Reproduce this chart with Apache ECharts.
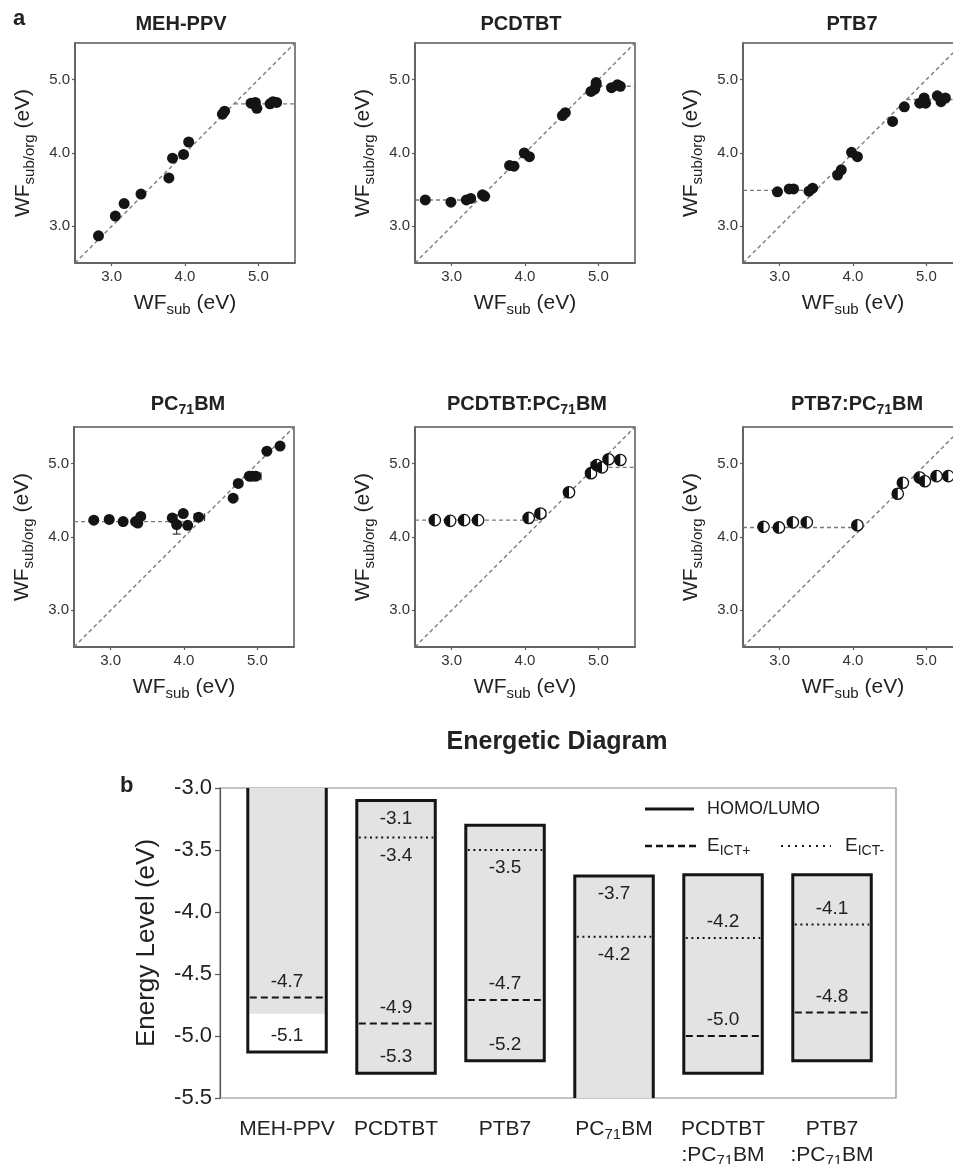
<!DOCTYPE html>
<html><head><meta charset="utf-8">
<script src="https://cdn.jsdelivr.net/npm/echarts@6/dist/echarts.min.js"></script>
<style>html,body{margin:0;padding:0;background:#fff}#c{width:953px;height:1164px}</style>
</head><body><div id="c"></div>
<script>
// ---------------- DATA ----------------
const panelTitles = ['MEH-PPV', 'PCDTBT', 'PTB7', 'PC{s|71}BM', 'PCDTBT:PC{s|71}BM', 'PTB7:PC{s|71}BM'];
const axisRange = [2.5, 5.5];
const axisTicks = [3.0, 4.0, 5.0];

const mehPpvPts = [[2.82,2.87],[3.05,3.14],[3.17,3.31],[3.40,3.44],[3.78,3.66],[3.83,3.93],[3.98,3.98],[4.05,4.15],[4.51,4.53],[4.54,4.57],[4.90,4.68],[4.96,4.69],[4.98,4.61],[5.16,4.67],[5.20,4.70],[5.25,4.69]];
const pcdtbtPts = [[2.64,3.36],[2.99,3.33],[3.20,3.36],[3.26,3.38],[3.42,3.43],[3.45,3.41],[3.79,3.83],[3.85,3.82],[3.99,4.00],[4.06,3.95],[4.51,4.51],[4.55,4.55],[4.90,4.84],[4.95,4.87],[4.97,4.93],[4.97,4.96],[5.18,4.89],[5.26,4.93],[5.30,4.91]];
const ptb7Pts = [[2.97,3.47],[3.13,3.51],[3.19,3.51],[3.40,3.48],[3.45,3.52],[3.79,3.70],[3.84,3.77],[3.98,4.01],[4.06,3.95],[4.54,4.43],[4.70,4.63],[4.91,4.68],[4.97,4.75],[4.99,4.68],[5.15,4.78],[5.20,4.70],[5.26,4.75]];
const pc71bmPts = [[2.77,4.23],[2.98,4.24],[3.17,4.21],[3.34,4.21],[3.37,4.19],[3.41,4.28],[3.84,4.26],[3.90,4.17],[3.99,4.32],[4.05,4.16],[4.20,4.27],[4.67,4.53],[4.74,4.73],[4.89,4.83],[4.93,4.83],[4.98,4.83],[5.13,5.17],[5.31,5.24]];
const pcdtbtBlendPts = [[2.77,4.23],[2.98,4.22],[3.17,4.23],[3.36,4.23],[4.05,4.26],[4.21,4.32],[4.60,4.61],[4.90,4.87],[4.98,4.98],[5.05,4.95],[5.14,5.06],[5.30,5.05]];
const ptb7BlendPts = [[2.78,4.14],[2.99,4.13],[3.18,4.20],[3.37,4.20],[4.06,4.16],[4.61,4.59],[4.68,4.74],[4.91,4.81],[4.98,4.76],[5.14,4.83],[5.30,4.83]];

const lowPlateau  = [null, 3.36, 3.49, 4.21, 4.23, 4.13];
const highPlateau = [4.67, 4.91, 4.73, null, 4.95, null];
// error bars: x-errors [y, xLow, xHigh], y-errors [x, yLow, yHigh]
const xErrBars = [[], [], [], [[4.27,4.14,4.28],[4.83,4.86,5.05]], [[4.32,4.15,4.28],[4.98,4.90,5.00]], []];
const yErrBars = [[], [], [], [[3.90,4.04,4.30]], [], []];

// Energetic diagram
const energyCats = ['MEH-PPV', 'PCDTBT', 'PTB7', 'PC{s|71}BM', 'PCDTBT\n:PC{s|71}BM', 'PTB7\n:PC{s|71}BM'];
const lumo        = [-2.9, -3.1, -3.3, -3.71, -3.7, -3.7];
const homo        = [-5.13, -5.3, -5.2, -6.1, -5.3, -5.2];
const shadeBottom = [-4.82, -5.3, -5.2, -6.1, -5.3, -5.2];
const eIctPlus    = [-4.69, -4.9, -4.71, null, -5.0, -4.81];
const eIctMinus   = [null, -3.4, -3.5, -4.2, -4.21, -4.1];
const energyRange = [-5.5, -3.0];
const levelLabels = [[0,-4.7],[0,-5.1],[1,-3.1],[1,-3.4],[1,-4.9],[1,-5.3],[2,-3.5],[2,-4.7],[2,-5.2],[3,-3.7],[3,-4.2],[4,-4.2],[4,-5.0],[5,-4.1],[5,-4.8]];
const legendNames = ['HOMO/LUMO', 'E{s|ICT+}', 'E{s|ICT-}'];

// ---------------- LAYOUT / STYLE ----------------
const FONT = '"Liberation Sans", Arial, sans-serif';
const TXT = '#222';
const labelSide = [-1,-1, 1,1,-1,-1, 1,-1,-1, 1,1, -1,-1, -1,-1]; // 1 below line, -1 above
const gridBoxes = [[75,43],[415,43],[743,43],[74,427],[415,427],[743,427]];
const titleCenters = [[181,24],[521,24],[852,24],[188,404],[527,404],[857,404]];
const panelPts = [mehPpvPts, pcdtbtPts, ptb7Pts, pc71bmPts, pcdtbtBlendPts, ptb7BlendPts];
const halfFilled = [false,false,false,false,true,true];
const catPos = energyCats.map((c, i) => i);

const nameRich = {
  m: {fontSize: 21, fontFamily: FONT, color: TXT, lineHeight: 28},
  s: {fontSize: 15, fontFamily: FONT, color: TXT, lineHeight: 12, verticalAlign: 'bottom'}
};

const grids = [], xAxes = [], yAxes = [], series = [], titles = [];
const dashStyle = {color: '#7a7a7a', width: 1.4, type: [4, 3]};

function halfRender(params, api) {
  const p = api.coord([api.value(0), api.value(1)]);
  const r = 5.7;
  return {type: 'group', children: [
    {type: 'circle', shape: {cx: p[0], cy: p[1], r: r}, style: {fill: '#fff', stroke: '#111', lineWidth: 1.3}},
    {type: 'sector', shape: {cx: p[0], cy: p[1], r0: 0, r: r, startAngle: Math.PI/2, endAngle: Math.PI*1.5, clockwise: true}, style: {fill: '#111'}}
  ]};
}
function xErrRender(params, api) {
  const y = api.value(0), lo = api.value(1), hi = api.value(2);
  const a = api.coord([lo, y]), b = api.coord([hi, y]);
  const st = {stroke: '#333', lineWidth: 1.2};
  return {type: 'group', children: [
    {type: 'line', shape: {x1: a[0], y1: a[1], x2: b[0], y2: b[1]}, style: st},
    {type: 'line', shape: {x1: a[0], y1: a[1]-4, x2: a[0], y2: a[1]+4}, style: st},
    {type: 'line', shape: {x1: b[0], y1: b[1]-4, x2: b[0], y2: b[1]+4}, style: st}
  ]};
}
function yErrRender(params, api) {
  const x = api.value(0), lo = api.value(1), hi = api.value(2);
  const a = api.coord([x, lo]), b = api.coord([x, hi]);
  const st = {stroke: '#333', lineWidth: 1.2};
  return {type: 'group', children: [
    {type: 'line', shape: {x1: a[0], y1: a[1], x2: b[0], y2: b[1]}, style: st},
    {type: 'line', shape: {x1: a[0]-4, y1: a[1], x2: a[0]+4, y2: a[1]}, style: st},
    {type: 'line', shape: {x1: b[0]-4, y1: b[1], x2: b[0]+4, y2: b[1]}, style: st}
  ]};
}

panelPts.forEach((pts, i) => {
  const [L, T] = gridBoxes[i];
  grids.push({left: L, top: T, width: 220, height: 220, show: true, borderColor: '#5a5a5a', borderWidth: 1.5,
    backgroundColor: 'rgba(0,0,0,0)', containLabel: false, outerBoundsMode: 'none'});
  const common = {
    gridIndex: i, type: 'value', min: axisRange[0], max: axisRange[1],
    nameLocation: 'middle', nameTextStyle: {rich: nameRich},
    axisLine: {show: true, onZero: false, lineStyle: {color: '#5a5a5a', width: 1.5}},
    axisTick: {show: true, length: 3, customValues: axisTicks, lineStyle: {color: '#5a5a5a', width: 1.2}},
    axisLabel: {customValues: axisTicks, formatter: v => v.toFixed(1), fontSize: 15, color: '#333', fontFamily: FONT},
    splitLine: {show: false}
  };
  xAxes.push(Object.assign({}, common, {name: '{m|WF}{s|sub}{m| (eV)}', nameGap: 26,
    axisLabel: Object.assign({}, common.axisLabel, {margin: 6})}));
  yAxes.push(Object.assign({}, common, {name: '{m|WF}{s|sub/org}{m| (eV)}', nameGap: 38,
    axisLabel: Object.assign({}, common.axisLabel, {margin: 5})}));
  titles.push({text: panelTitles[i], left: titleCenters[i][0], top: titleCenters[i][1] - 13, textAlign: 'center', padding: 0,
    textStyle: {fontSize: 20, fontWeight: 'bold', color: TXT, fontFamily: FONT, lineHeight: 26,
      rich: {s: {fontSize: 14, fontWeight: 'bold', color: TXT, fontFamily: FONT, verticalAlign: 'bottom', lineHeight: 10}}}});

  const lineBase = {type: 'line', xAxisIndex: i, yAxisIndex: i, symbol: 'none', silent: true, lineStyle: dashStyle, z: 1, animation: false};
  series.push(Object.assign({}, lineBase, {data: [[axisRange[0], axisRange[0]], [axisRange[1], axisRange[1]]]}));
  if (lowPlateau[i] !== null) series.push(Object.assign({}, lineBase, {data: [[axisRange[0], lowPlateau[i]], [lowPlateau[i], lowPlateau[i]]]}));
  if (highPlateau[i] !== null) series.push(Object.assign({}, lineBase, {data: [[highPlateau[i], highPlateau[i]], [axisRange[1], highPlateau[i]]]}));
  if (xErrBars[i].length) series.push({type: 'custom', xAxisIndex: i, yAxisIndex: i, data: xErrBars[i], renderItem: xErrRender, encode: {x: [1,2], y: 0}, z: 2, silent: true, animation: false});
  if (yErrBars[i].length) series.push({type: 'custom', xAxisIndex: i, yAxisIndex: i, data: yErrBars[i], renderItem: yErrRender, encode: {x: 0, y: [1,2]}, z: 2, silent: true, animation: false});
  if (halfFilled[i]) {
    series.push({type: 'custom', xAxisIndex: i, yAxisIndex: i, data: pts, renderItem: halfRender, encode: {x: 0, y: 1}, z: 3, silent: true, animation: false});
  } else {
    series.push({type: 'scatter', xAxisIndex: i, yAxisIndex: i, data: pts, symbolSize: 11, itemStyle: {color: '#141414', opacity: 1}, z: 3, silent: true, animation: false});
  }
});

// ---- Energetic diagram ----
const EG = 6;
grids.push({left: 220, top: 788, width: 676, height: 310, show: true, borderColor: '#8a8a8a', borderWidth: 1.2,
  backgroundColor: 'rgba(0,0,0,0)', containLabel: false, outerBoundsMode: 'none'});
xAxes.push({gridIndex: EG, type: 'value', min: -0.615, max: 5.587,
  axisLine: {show: false, onZero: false}, axisTick: {show: false}, splitLine: {show: false},
  axisLabel: {customValues: catPos, formatter: v => energyCats[Math.round(v)], margin: 18,
    fontSize: 21, color: TXT, fontFamily: FONT, lineHeight: 26,
    rich: {s: {fontSize: 15, color: TXT, fontFamily: FONT, verticalAlign: 'bottom', lineHeight: 12}}}});
yAxes.push({gridIndex: EG, type: 'value', min: energyRange[0], max: energyRange[1], interval: 0.5,
  name: 'Energy Level (eV)', nameLocation: 'middle', nameGap: 60,
  nameTextStyle: {fontSize: 26, color: TXT, fontFamily: FONT},
  axisLine: {show: true, onZero: false, lineStyle: {color: '#555', width: 1.2}},
  axisTick: {show: true, length: 5, lineStyle: {color: '#555', width: 1.2}},
  axisLabel: {formatter: v => v.toFixed(1), fontSize: 22, color: TXT, fontFamily: FONT, margin: 8},
  splitLine: {show: false}});

const clampV = v => Math.max(energyRange[0], Math.min(energyRange[1], v));
function boxRender(params, api) {
  const i = params.dataIndex;
  const xc = api.value(0);
  const half = api.size([0.72, 0])[0] / 2;
  const cx = api.coord([xc, energyRange[1]])[0];
  const x0 = cx - half, x1 = cx + half;
  const yT = api.coord([xc, clampV(lumo[i])])[1];
  const yB = api.coord([xc, clampV(homo[i])])[1];
  const yS = api.coord([xc, clampV(shadeBottom[i])])[1];
  const ch = [];
  ch.push({type: 'rect', shape: {x: x0, y: yT, width: x1 - x0, height: yS - yT}, style: {fill: '#e3e3e3'}});
  const topIn = lumo[i] <= energyRange[1], botIn = homo[i] >= energyRange[0];
  let pts;
  if (topIn && botIn) {
    ch.push({type: 'polygon', shape: {points: [[x0,yT],[x1,yT],[x1,yB],[x0,yB]]}, style: {fill: 'none', stroke: '#151515', lineWidth: 3, lineJoin: 'miter'}});
  } else {
    if (!topIn) pts = [[x0,yT],[x0,yB],[x1,yB],[x1,yT]];
    else pts = [[x0,yB],[x0,yT],[x1,yT],[x1,yB]];
    ch.push({type: 'polyline', shape: {points: pts}, style: {fill: 'none', stroke: '#151515', lineWidth: 3, lineJoin: 'miter'}});
  }
  if (eIctPlus[i] !== null) {
    const y = api.coord([xc, eIctPlus[i]])[1];
    ch.push({type: 'line', shape: {x1: x0 + 2, y1: y, x2: x1 - 2, y2: y}, style: {stroke: '#151515', lineWidth: 2, lineDash: [7, 4]}});
  }
  if (eIctMinus[i] !== null) {
    const y = api.coord([xc, eIctMinus[i]])[1];
    ch.push({type: 'line', shape: {x1: x0 + 2, y1: y, x2: x1 - 2, y2: y}, style: {stroke: '#151515', lineWidth: 2, lineDash: [2, 3.6]}});
  }
  return {type: 'group', children: ch};
}
series.push({type: 'custom', xAxisIndex: EG, yAxisIndex: EG, data: energyCats.map((c, i) => [i, clampV(lumo[i]), clampV(homo[i])]),
  renderItem: boxRender, encode: {x: 0, y: [1, 2]}, silent: true, animation: false, z: 2});

function nearestLevel(i, v) {
  const levels = [lumo[i], homo[i], eIctPlus[i], eIctMinus[i]].filter(x => x !== null);
  let best = levels[0];
  levels.forEach(l => { if (Math.abs(l - v) < Math.abs(best - v)) best = l; });
  return best;
}
function labelRender(params, api) {
  const k = params.dataIndex;
  const ci = api.value(0), v = api.value(1);
  const anchor = nearestLevel(ci, v);
  const p = api.coord([ci, anchor]);
  const off = labelSide[k] > 0 ? 18 : -16;
  return {type: 'text', x: p[0], y: p[1] + off,
    style: {text: v.toFixed(1), align: 'center', verticalAlign: 'middle', fontSize: 19, fontFamily: FONT, fill: TXT}};
}
series.push({type: 'custom', xAxisIndex: EG, yAxisIndex: EG, data: levelLabels, renderItem: labelRender,
  encode: {x: 0, y: 1}, silent: true, animation: false, z: 4});

titles.push({text: 'Energetic Diagram', left: 557, top: 730, textAlign: 'center', padding: 0,
  textStyle: {fontSize: 25, fontWeight: 'bold', color: TXT, fontFamily: FONT}});

const legRich = {s: {fontSize: 14, fontFamily: FONT, fill: TXT, verticalAlign: 'bottom', lineHeight: 10}};
const graphics = [
  {type: 'text', left: 13, top: 8, style: {text: 'a', fontSize: 22, fontWeight: 'bold', fontFamily: FONT, fill: TXT}},
  {type: 'text', left: 120, top: 775, style: {text: 'b', fontSize: 22, fontWeight: 'bold', fontFamily: FONT, fill: TXT}},
  {type: 'line', shape: {x1: 645, y1: 809, x2: 694, y2: 809}, style: {stroke: '#151515', lineWidth: 3}},
  {type: 'text', x: 707, y: 809, style: {text: legendNames[0], fontSize: 18, fontFamily: FONT, fill: TXT, verticalAlign: 'middle'}},
  {type: 'line', shape: {x1: 645, y1: 846, x2: 697, y2: 846}, style: {stroke: '#151515', lineWidth: 2.5, lineDash: [7, 4]}},
  {type: 'text', x: 707, y: 846, style: {text: legendNames[1], fontSize: 19, fontFamily: FONT, fill: TXT, verticalAlign: 'middle', lineHeight: 24, rich: legRich}},
  {type: 'line', shape: {x1: 781, y1: 846, x2: 831, y2: 846}, style: {stroke: '#151515', lineWidth: 2.2, lineDash: [2, 5]}},
  {type: 'text', x: 845, y: 846, style: {text: legendNames[2], fontSize: 19, fontFamily: FONT, fill: TXT, verticalAlign: 'middle', lineHeight: 24, rich: legRich}}
];

const chart = echarts.init(document.getElementById('c'), null, {renderer: 'canvas'});
chart.setOption({
  backgroundColor: '#fff',
  animation: false,
  title: titles,
  grid: grids,
  xAxis: xAxes,
  yAxis: yAxes,
  series: series,
  graphic: graphics
});
</script></body></html>
